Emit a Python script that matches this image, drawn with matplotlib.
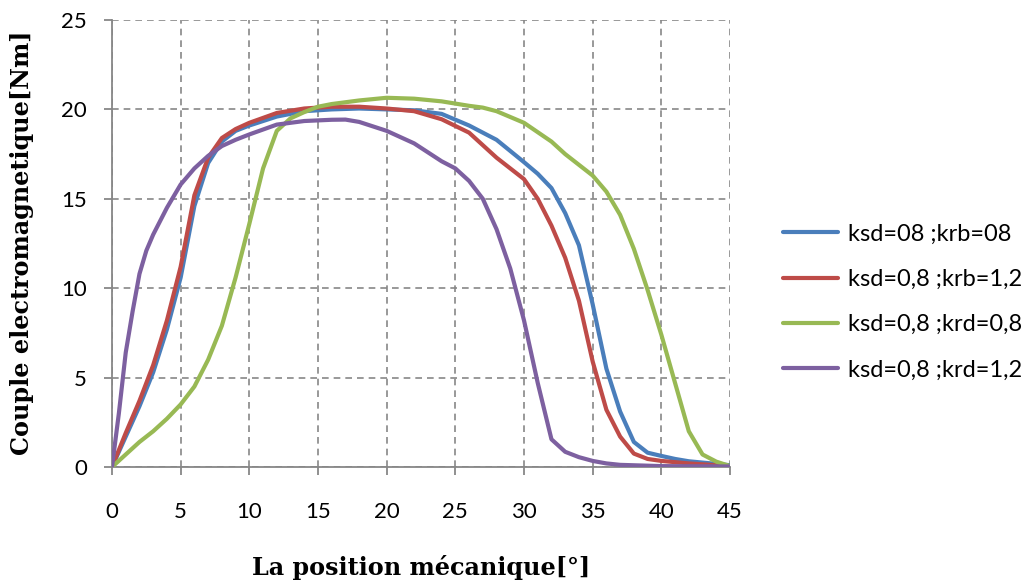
import matplotlib
matplotlib.use("Agg")
import matplotlib.pyplot as plt

# Torque vs. mechanical position for four stator/rotor coefficient sets
x_blue = [0, 1, 2, 3, 4, 5, 6, 7, 8, 9, 10, 12, 14, 16, 18, 20, 22, 24, 26, 28,
          30, 31, 32, 33, 34, 35, 36, 37, 38, 39, 40, 41, 42, 45]
y_blue = [0, 1.7, 3.4, 5.3, 7.7, 10.6, 14.6, 17.0, 18.2, 18.8, 19.1, 19.6, 19.9,
          20.0, 20.05, 20.0, 19.95, 19.75, 19.1, 18.3, 17.05, 16.4, 15.6, 14.2,
          12.4, 9.1, 5.5, 3.1, 1.4, 0.8, 0.62, 0.45, 0.32, 0.1]

x_red = [0, 1, 2, 3, 4, 5, 6, 7, 8, 9, 10, 12, 14, 16, 18, 20, 22, 24, 26, 28,
         30, 31, 32, 33, 34, 35, 36, 37, 38, 39, 40, 42, 45]
y_red = [0, 1.9, 3.7, 5.7, 8.2, 11.2, 15.2, 17.3, 18.4, 18.9, 19.25, 19.8, 20.05,
         20.15, 20.15, 20.05, 19.9, 19.45, 18.7, 17.3, 16.1, 15.0, 13.5, 11.7,
         9.3, 5.9, 3.2, 1.7, 0.75, 0.45, 0.34, 0.2, 0.05]

x_green = [0, 1, 2, 3, 4, 5, 6, 7, 8, 9, 10, 11, 12, 13, 14, 15, 16, 18, 20, 22,
           24, 26, 27, 28, 30, 32, 33, 34, 35, 36, 37, 38, 39, 40, 41, 42, 43,
           44, 45]
y_green = [0, 0.7, 1.4, 2.0, 2.7, 3.5, 4.5, 6.0, 7.9, 10.6, 13.6, 16.7, 18.8,
           19.5, 19.85, 20.15, 20.3, 20.5, 20.65, 20.6, 20.45, 20.2, 20.1, 19.9,
           19.25, 18.2, 17.5, 16.9, 16.3, 15.4, 14.1, 12.2, 9.9, 7.4, 4.7, 2.0,
           0.7, 0.3, 0.05]

x_purple = [0, 0.5, 1, 1.5, 2, 2.5, 3, 4, 5, 6, 7, 8, 9, 10, 12, 14, 16, 17, 18,
            20, 22, 24, 25, 26, 27, 28, 29, 30, 31, 32, 33, 34, 35, 36, 37, 40, 45]
y_purple = [0, 3.0, 6.4, 8.7, 10.8, 12.1, 13.0, 14.5, 15.8, 16.7, 17.4, 17.95,
            18.3, 18.6, 19.15, 19.35, 19.42, 19.43, 19.3, 18.8, 18.1, 17.1, 16.7,
            16.0, 15.0, 13.3, 11.1, 8.2, 4.7, 1.55, 0.85, 0.55, 0.34, 0.2, 0.12,
            0.05, 0.03]

series = [
    ("ksd=08 ;krb=08", x_blue, y_blue, "#4A7EBB"),
    ("ksd=0,8 ;krb=1,2", x_red, y_red, "#BE4B48"),
    ("ksd=0,8 ;krd=0,8", x_green, y_green, "#98B954"),
    ("ksd=0,8 ;krd=1,2", x_purple, y_purple, "#7D60A0"),
]

x_ticks = [0, 5, 10, 15, 20, 25, 30, 35, 40, 45]
y_ticks = [0, 5, 10, 15, 20, 25]

tick_font = "Lato"
label_font = "DejaVu Serif"
grey = "#878787"

fig = plt.figure(figsize=(10.32, 5.84), dpi=100)
ax = fig.add_axes([112 / 1032, 1 - 467 / 584, 618 / 1032, 447 / 584])

for label, xs, ys, col in series:
    ax.plot(xs, ys, color=col, lw=3.0, label=label, solid_capstyle="round",
            solid_joinstyle="round", zorder=3)

ax.set_xlim(0, 45)
ax.set_ylim(0, 25)
ax.set_xticks(x_ticks)
ax.set_yticks(y_ticks)
ax.grid(True, color=grey, linestyle=(0, (4, 3)), linewidth=1.2, zorder=1)

for side in ("top", "right"):
    ax.spines[side].set_visible(False)
for side in ("left", "bottom"):
    ax.spines[side].set_color(grey)
    ax.spines[side].set_linewidth(1.3)
    ax.spines[side].set_zorder(2)

ax.tick_params(axis="both", direction="out", length=6, width=1.3, color=grey,
               labelsize=16)
ax.tick_params(axis="x", pad=19)
ax.tick_params(axis="y", pad=12)
for lab in ax.get_xticklabels() + ax.get_yticklabels():
    lab.set_fontfamily(tick_font)

fig.text(421.5 / 1032, 1 - 567 / 584, "La position mécanique[°]",
         fontfamily=label_font, fontweight="bold", fontsize=17.2,
         ha="center", va="center")
fig.text(22 / 1032, 1 - 243 / 584, "Couple electromagnetique[Nm]",
         fontfamily=label_font, fontweight="bold", fontsize=17.2,
         ha="center", va="center", rotation=90)

fig.legend(loc="center left", bbox_to_anchor=(783 / 1032, 0.483),
           frameon=False, prop={"family": tick_font, "size": 17},
           handlelength=2.33, handletextpad=0.42, labelspacing=1.03,
           borderpad=0, borderaxespad=0)

fig.savefig("out.png", dpi=100)
